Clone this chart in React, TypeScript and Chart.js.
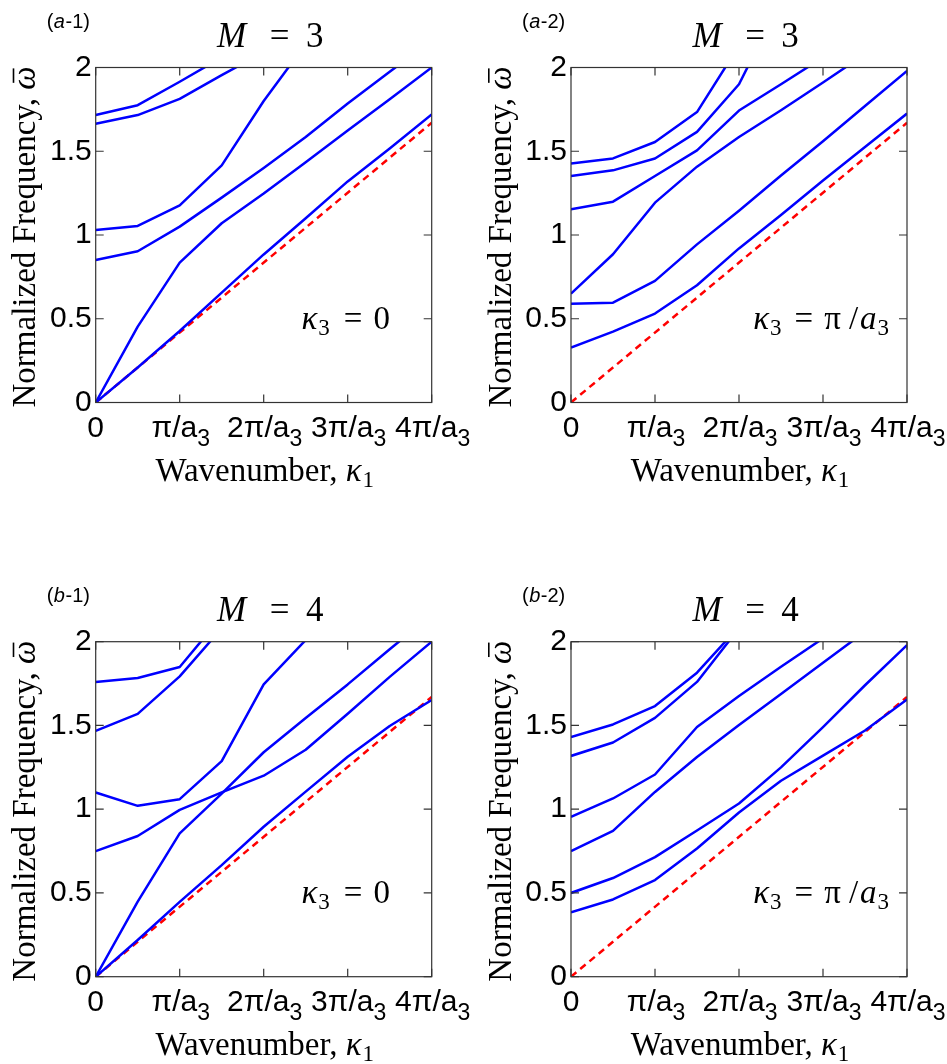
import React, { useEffect, useRef } from "react";
import { Chart, registerables } from "chart.js";

Chart.register(...registerables);

// ---------------- data ----------------
const kappa = [0, 0.5, 1, 1.5, 2, 2.5, 3, 3.5, 4];
const lightKappa = [0, 4];
const xTickLabels = ["0", "π/a_3", "2π/a_3", "3π/a_3", "4π/a_3"];
const yTickLabels = ["0", "0.5", "1", "1.5", "2"];

// (a-1)  M = 3, kappa3 = 0
const a1Mode1 = [1.716, 1.775, 1.915, 2.06];
const a1Mode2 = [1.664, 1.716, 1.813, 1.955, 2.09];
const a1Mode3 = [1.03, 1.054, 1.177, 1.416, 1.8, 2.14];
const a1Mode4 = [0.851, 0.903, 1.05, 1.223, 1.4, 1.585, 1.785, 1.975, 2.16];
const a1Mode5 = [0, 0.453, 0.835, 1.07, 1.248, 1.435, 1.624, 1.81, 2.0];
const a1Mode6 = [0, 0.209, 0.427, 0.656, 0.884, 1.1, 1.32, 1.517, 1.72];
const a1Light = [0, 1.67];

// (a-2)  M = 3, kappa3 = pi/a3
const a2Mode1 = [1.427, 1.457, 1.555, 1.734, 2.13];
const a2Mode2 = [1.352, 1.386, 1.457, 1.616, 1.9, 2.4];
const a2Mode3 = [1.153, 1.199, 1.352, 1.505, 1.743, 1.9, 2.06];
const a2Mode4 = [0.65, 0.885, 1.193, 1.408, 1.585, 1.745, 1.91, 2.08];
const a2Mode5 = [0.59, 0.596, 0.726, 0.944, 1.145, 1.355, 1.56, 1.77, 1.98];
const a2Mode6 = [0.328, 0.423, 0.531, 0.7, 0.92, 1.12, 1.325, 1.525, 1.725];
const a2Light = [0, 1.67];

// (b-1)  M = 4, kappa3 = 0
const b1Mode1 = [1.76, 1.783, 1.849, 2.15];
const b1Mode2 = [1.468, 1.569, 1.793, 2.08];
const b1Mode3 = [1.1, 1.02, 1.06, 1.287, 1.745, 2.01];
const b1Mode4 = [0.75, 0.84, 0.996, 1.1, 1.2, 1.355, 1.57, 1.79, 2.0];
const b1Mode5 = [0, 0.448, 0.856, 1.093, 1.34, 1.545, 1.745, 1.955, 2.16];
const b1Mode6 = [0, 0.219, 0.447, 0.666, 0.895, 1.105, 1.313, 1.497, 1.652];
const b1Light = [0, 1.67];

// (b-2)  M = 4, kappa3 = pi/a3
const b2Mode1 = [1.43, 1.506, 1.616, 1.815, 2.09];
const b2Mode2 = [1.318, 1.398, 1.545, 1.76, 2.08];
const b2Mode3 = [0.954, 1.064, 1.207, 1.491, 1.676, 1.85, 2.02];
const b2Mode4 = [0.75, 0.871, 1.103, 1.312, 1.503, 1.688, 1.875, 2.06];
const b2Mode5 = [0.5, 0.589, 0.714, 0.873, 1.034, 1.25, 1.49, 1.74, 1.98];
const b2Mode6 = [0.384, 0.461, 0.577, 0.765, 0.98, 1.17, 1.32, 1.47, 1.655];
const b2Light = [0, 1.67];

// ---------------- styling / layout ----------------
const SERIF = '"Liberation Serif", "Times New Roman", serif';
const SANS = '"Liberation Sans", Arial, Helvetica, sans-serif';
const BLUE = "#0000ff";
const RED = "#ff0000";
const FRAME = "#333333";

type Panel = {
  tag: string;
  num: string;
  M: string;
  modes: number[][];
  light: number[];
  note: "zero" | "pi";
  noteX: number;
  left: number;
  top: number;
  w: number;
  h: number;
  L: number;
  T: number;
  R: number;
  B: number;
};

const PANELS: Panel[] = [
  { tag: "a", num: "-1)", M: "3", modes: [a1Mode1, a1Mode2, a1Mode3, a1Mode4, a1Mode5, a1Mode6], light: a1Light, note: "zero", noteX: 2.45, left: 0, top: 0, w: 473, h: 532, L: 95.7, T: 67.5, R: 431.7, B: 402.5 },
  { tag: "a", num: "-2)", M: "3", modes: [a2Mode1, a2Mode2, a2Mode3, a2Mode4, a2Mode5, a2Mode6], light: a2Light, note: "pi", noteX: 2.17, left: 473, top: 0, w: 474, h: 532, L: 98, T: 67.5, R: 434, B: 402.5 },
  { tag: "b", num: "-1)", M: "4", modes: [b1Mode1, b1Mode2, b1Mode3, b1Mode4, b1Mode5, b1Mode6], light: b1Light, note: "zero", noteX: 2.45, left: 0, top: 532, w: 473, h: 532, L: 95.7, T: 109.7, R: 431.7, B: 444.7 },
  { tag: "b", num: "-2)", M: "4", modes: [b2Mode1, b2Mode2, b2Mode3, b2Mode4, b2Mode5, b2Mode6], light: b2Light, note: "pi", noteX: 2.17, left: 473, top: 532, w: 474, h: 532, L: 98, T: 109.7, R: 434, B: 444.7 },
];

type Run = { t: string; f: string; dy?: number; gap?: number };

function runsWidth(ctx: CanvasRenderingContext2D, runs: Run[]) {
  let w = 0;
  for (const r of runs) {
    ctx.font = r.f;
    w += ctx.measureText(r.t).width + (r.gap || 0);
  }
  return w;
}

function drawRuns(ctx: CanvasRenderingContext2D, runs: Run[], x: number, y: number) {
  let cx = x;
  const starts: number[] = [];
  ctx.textAlign = "left";
  ctx.textBaseline = "alphabetic";
  for (const r of runs) {
    ctx.font = r.f;
    starts.push(cx);
    ctx.fillText(r.t, cx, y + (r.dy || 0));
    cx += ctx.measureText(r.t).width + (r.gap || 0);
  }
  return starts;
}

function makeDecor(p: Panel) {
  return {
    id: "panelDecor",
    afterDraw(chart: any) {
      const { ctx, chartArea: a, scales } = chart;
      const xs = scales.x;
      const ys = scales.y;
      ctx.save();
      // frame
      ctx.strokeStyle = FRAME;
      ctx.lineWidth = 1.2;
      ctx.strokeRect(a.left, a.top, a.right - a.left, a.bottom - a.top);
      // inward ticks on all four sides
      const TL = 8;
      ctx.beginPath();
      xs.ticks.forEach((t: any) => {
        const px = xs.getPixelForValue(t.value);
        ctx.moveTo(px, a.bottom);
        ctx.lineTo(px, a.bottom - TL);
        ctx.moveTo(px, a.top);
        ctx.lineTo(px, a.top + TL);
      });
      ys.ticks.forEach((t: any) => {
        const py = ys.getPixelForValue(t.value);
        ctx.moveTo(a.left, py);
        ctx.lineTo(a.left + TL, py);
        ctx.moveTo(a.right, py);
        ctx.lineTo(a.right - TL, py);
      });
      ctx.stroke();

      ctx.fillStyle = "#000";
      // x tick labels with subscript
      xs.ticks.forEach((t: any, i: number) => {
        const lab = xTickLabels[i] ?? String(t.value);
        const parts = lab.split("_");
        const runs: Run[] = [{ t: parts[0], f: `30px ${SANS}` }];
        if (parts[1]) runs.push({ t: parts[1], f: `23px ${SANS}`, dy: 9 });
        const w = runsWidth(ctx, runs);
        const px = xs.getPixelForValue(t.value);
        drawRuns(ctx, runs, px - w / 2 + (parts[1] ? 1 : 0), a.bottom + 34);
      });

      const cx = (a.left + a.right) / 2;
      const cy = (a.top + a.bottom) / 2;

      // panel tag (a-1)
      drawRuns(
        ctx,
        [
          { t: "(", f: `20px ${SANS}`, gap: 0.5 },
          { t: p.tag, f: `italic 20px ${SANS}`, gap: 0.5 },
          { t: p.num, f: `20px ${SANS}` },
        ],
        a.left - 49,
        a.top - 39.5
      );

      // title M = n
      ctx.textBaseline = "alphabetic";
      ctx.textAlign = "center";
      ctx.font = `italic 35px ${SERIF}`;
      ctx.fillText("M", cx - 32, a.top - 20.5);
      ctx.font = `35px ${SERIF}`;
      ctx.fillText("=", cx + 16, a.top - 20.5);
      ctx.fillText(p.M, cx + 51, a.top - 20.5);

      // x axis title
      const xt: Run[] = [
        { t: "Wavenumber, ", f: `33px ${SERIF}` },
        { t: "κ", f: `italic 33px ${SERIF}`, gap: 1 },
        { t: "1", f: `23px ${SERIF}`, dy: 6 },
      ];
      const xtw = runsWidth(ctx, xt);
      drawRuns(ctx, xt, cx + 1 - xtw / 2, a.bottom + 78.5);

      // y axis title (rotated) with omega-bar
      const yt: Run[] = [
        { t: "Normalized Frequency, ", f: `33px ${SERIF}` },
        { t: "ω", f: `italic 33px ${SERIF}` },
      ];
      const ytw = runsWidth(ctx, yt);
      ctx.save();
      ctx.translate(a.left - 60.5, cy + 2);
      ctx.rotate(-Math.PI / 2);
      const st = drawRuns(ctx, yt, -ytw / 2, 0);
      ctx.font = `italic 33px ${SERIF}`;
      const ow = ctx.measureText("ω").width;
      ctx.fillRect(st[1] + ow * 0.3, -22.5, ow * 0.62, 1.6);
      ctx.restore();

      // annotation kappa3 = ...
      const it = `italic 33px ${SERIF}`;
      const up = `33px ${SERIF}`;
      const sb = `23px ${SERIF}`;
      const note: Run[] =
        p.note === "zero"
          ? [
              { t: "κ", f: it, gap: 1 },
              { t: "3", f: sb, dy: 6, gap: 14 },
              { t: "=", f: up, gap: 11 },
              { t: "0", f: up },
            ]
          : [
              { t: "κ", f: it, gap: 1 },
              { t: "3", f: sb, dy: 6, gap: 13 },
              { t: "=", f: up, gap: 11 },
              { t: "π", f: up, gap: 8 },
              { t: "/", f: up, gap: 2 },
              { t: "a", f: it, gap: 1 },
              { t: "3", f: sb, dy: 6 },
            ];
      drawRuns(ctx, note, xs.getPixelForValue(p.noteX), ys.getPixelForValue(0.5) + 10);

      ctx.restore();
    },
  };
}

function PanelChart({ p }: { p: Panel }) {
  const ref = useRef<HTMLCanvasElement | null>(null);
  useEffect(() => {
    if (!ref.current) return;
    const datasets: any[] = p.modes.map((m) => ({
      data: m.map((y, i) => ({ x: kappa[i], y })),
      borderColor: BLUE,
      borderWidth: 2.5,
      pointRadius: 0,
      tension: 0,
      fill: false,
      borderJoinStyle: "round",
    }));
    datasets.push({
      data: p.light.map((y, i) => ({ x: lightKappa[i], y })),
      borderColor: RED,
      borderWidth: 2.5,
      borderDash: [7, 5],
      pointRadius: 0,
      tension: 0,
      fill: false,
    });
    const chart = new Chart(ref.current, {
      type: "line",
      data: { datasets },
      options: {
        animation: false,
        responsive: false,
        events: [],
        layout: { padding: { left: 0, top: p.T, right: p.w - p.R, bottom: 0 } },
        plugins: {
          legend: { display: false },
          tooltip: { enabled: false },
          title: { display: false },
        },
        scales: {
          x: {
            type: "linear",
            min: 0,
            max: 4,
            ticks: { stepSize: 1, display: false },
            grid: { display: false, drawTicks: false },
            border: { display: false },
            afterFit: (s: any) => {
              s.height = p.h - p.B;
            },
          },
          y: {
            type: "linear",
            min: 0,
            max: 2,
            ticks: {
              stepSize: 0.5,
              padding: 4,
              color: "#000",
              font: { family: SANS, size: 30 },
              callback: (_v: any, i: number) => yTickLabels[i],
            },
            grid: { display: false, drawTicks: false },
            border: { display: false },
            afterFit: (s: any) => {
              s.width = p.L;
            },
          },
        },
      } as any,
      plugins: [makeDecor(p)],
    });
    return () => chart.destroy();
  }, [p]);
  return (
    <canvas
      ref={ref}
      width={p.w}
      height={p.h}
      style={{ position: "absolute", left: p.left, top: p.top, width: p.w, height: p.h }}
    />
  );
}

export default function App() {
  return (
    <div style={{ position: "absolute", left: 0, top: 0, width: 947, height: 1064, background: "#fff" }}>
      {PANELS.map((p, i) => (
        <PanelChart key={i} p={p} />
      ))}
    </div>
  );
}
